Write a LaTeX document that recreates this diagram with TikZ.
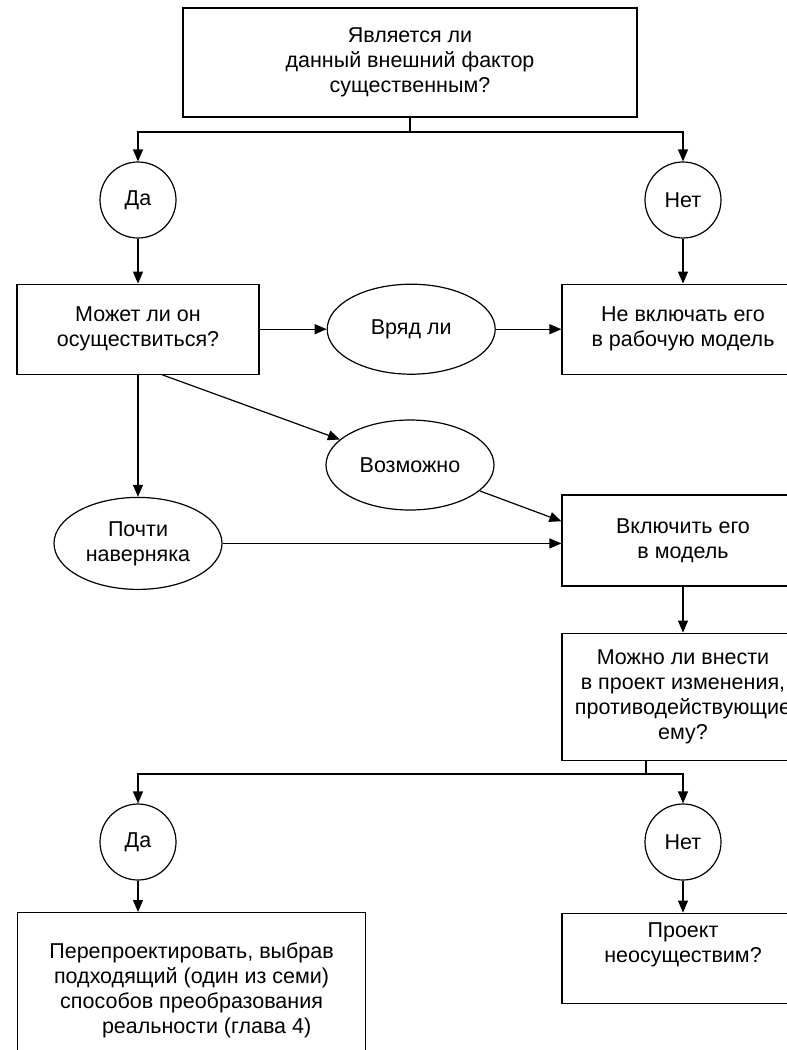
\documentclass[tikz,border=0pt]{standalone}
\usepackage{fontspec}
\setmainfont{Liberation Sans}
\usepackage{tikz}
\usetikzlibrary{shapes.geometric, arrows.meta, positioning}

\begin{document}
\begin{tikzpicture}[x=1pt, y=-1pt, node distance=45pt, font=\fontsize{21.5}{25}\selectfont]
    \tikzstyle{box} = [rectangle, minimum width=242pt, minimum height=90pt, inner sep=0pt, align=center, draw=black, line width=1.2pt]
    \tikzstyle{choice} = [circle, minimum size=76pt, inner sep=0pt, draw=black, line width=1.2pt]
    \tikzstyle{answer} = [ellipse, minimum width=168pt, minimum height=90pt, inner sep=0pt, align=center, draw=black, line width=1.2pt]
    \tikzstyle{arrow} = [line width=1.2pt, -{Triangle[length=12pt, width=10pt]}]
    \tikzstyle{line} = [line width=1.2pt]

    \useasboundingbox (0,0) rectangle (787,1050);
    \clip (0,0) rectangle (787,1050);
    \fill[white] (0,0) rectangle (787,1050);

    % First question
    \node (q1) [box, minimum width=454pt, minimum height=109pt] at (410,62.5) {Является ли\\ данный внешний фактор\\ существенным?};
    \node (yes1) [choice] at (138,200) {Да};
    \node (no1) [choice] at (683,200) {Нет};
    \coordinate (fork1) at (410,132);

    % Can it happen
    \node (occur) [box, below=45pt of yes1] {Может ли он\\ осуществиться?};
    \node (unlikely) [answer, right=67pt of occur] {Вряд ли};
    \node (exclude) [box, below=45pt of no1] {Не включать его\\ в рабочую модель};
    \node (possible) [answer] at (410,465) {Возможно};
    \node (certain) [answer, minimum height=92pt, below=122pt of occur] {Почти\\ наверняка};
    \node (include) [box, minimum height=91pt] at (683,540.5) {Включить его\\ в модель};

    % Second question
    \node (counter) [box, minimum height=127pt, below=46pt of include] {Можно ли внести\\ в проект изменения,\\ противодействующие\\ ему?};
    \coordinate (fork2) at (646,774);
    \node (yes2) [choice] at (138,842) {Да};
    \node (no2) [choice] at (683,842) {Нет};
    \node (redesign) [box, minimum width=348pt, minimum height=156pt, anchor=north west] at (17,912) {Перепроектировать, выбрав\\ подходящий (один из семи)\\ способов преобразования\\ \hspace*{1.4em}реальности (глава 4)};
    \node (infeasible) [box, below=32pt of no2] {Проект\\ неосуществим?\\[6pt]};

    % Connections
    \draw [line] (q1.south) -- (fork1);
    \draw [arrow] (fork1) -| (yes1);
    \draw [arrow] (fork1) -| (no1);
    \draw [arrow] (yes1) -- (occur);
    \draw [arrow] (no1) -- (exclude);
    \draw [arrow] (occur) -- (unlikely);
    \draw [arrow] (unlikely) -- (exclude);
    \draw [arrow] (occur.-62) -- (possible);
    \draw [arrow] (occur) -- (certain);
    \draw [arrow] (possible) -- (include.171);
    \draw [arrow] (certain.east) -- (certain.east -| include.west);
    \draw [arrow] (include) -- (counter);
    \draw [line] (counter.south -| fork2) -- (fork2);
    \draw [arrow] (fork2) -| (yes2);
    \draw [arrow] (fork2) -| (no2);
    \draw [arrow] (yes2) -- (yes2 |- redesign.north);
    \draw [arrow] (no2) -- (infeasible);
\end{tikzpicture}
\end{document}
